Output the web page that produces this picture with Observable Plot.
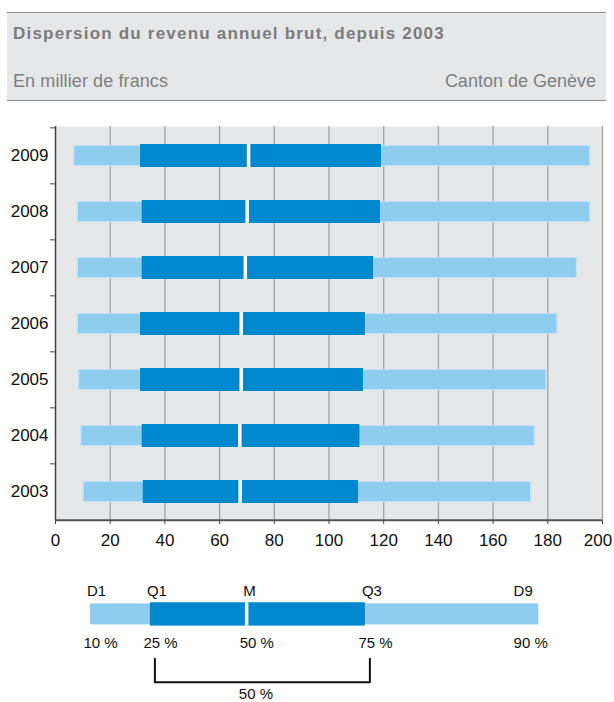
<!DOCTYPE html>
<html>
<head>
<meta charset="utf-8">
<script src="https://cdn.jsdelivr.net/npm/d3@7"></script>
<script src="https://cdn.jsdelivr.net/npm/@observablehq/plot@0.6"></script>
<style>
  html, body { margin: 0; padding: 0; background: #fff; }
  #page { position: relative; width: 614px; height: 702px; overflow: hidden; font-family: "Liberation Sans", Arial, sans-serif; }
  #header { position: absolute; left: 6.5px; top: 11.5px; width: 599px; height: 87px; background: #E6E7E9;
            border-top: 1px solid #8c8c8c; border-bottom: 1px solid #8c8c8c; }
  .htxt { position: absolute; white-space: nowrap; color: #7f7f7f; }
  #title { left: 13px; top: 24.5px; font-size: 17px; line-height: 17px; font-weight: bold; letter-spacing: 1.2px; color: #7c7c7c; }
  #sub { left: 13px; top: 72px; font-size: 18px; line-height: 18px; letter-spacing: 0.1px; }
  #canton { right: 18px; top: 72px; font-size: 18px; line-height: 18px; }
  #main { position: absolute; left: 0; top: 100px; }
  #legend { position: absolute; left: 0; top: 556px; }
</style>
</head>
<body>
<div id="page">
  <div id="header"></div>
  <div class="htxt" id="title">Dispersion du revenu annuel brut, depuis 2003</div>
  <div class="htxt" id="sub">En millier de francs</div>
  <div class="htxt" id="canton">Canton de Genève</div>
  <div id="main"></div>
  <div id="legend"></div>
</div>
<script>
// ---- data (en milliers de francs) ----
const years = [2003, 2004, 2005, 2006, 2007, 2008, 2009];
const d1  = [10.3,  9.5,   8.7,   8.2,   8.2,   8.2,   6.9];
const q1  = [32.1,  31.7,  31.1,  31.1,  31.7,  31.7,  31.1];
const med = [67.5,  67.4,  67.9,  67.9,  69.4,  70.1,  70.6];
const q3  = [110.8, 111.3, 112.6, 113.3, 116.3, 118.8, 119.2];
const d9  = [173.9, 175.2, 179.5, 183.5, 190.6, 195.5, 195.5];
const xTicks = [0, 20, 40, 60, 80, 100, 120, 140, 160, 180, 200];

// legend schematic
const legendKeys   = ["D1", "Q1", "M", "Q3", "D9"];
const legendPct    = ["10 %", "25 %", "50 %", "75 %", "90 %"];
const legendValues = [12.8, 34.7, 69.9, 113.3, 176.7];
const legendSpan   = "50 %";

const rows = years.map((year, i) => ({year, d1: d1[i], q1: q1[i], med: med[i], q3: q3[i], d9: d9[i]}));

const font = "'Liberation Sans', Arial, sans-serif";
const light = "#8ECDEF", dark = "#0088CE", bg = "#E6E7E9";

const W = 614, H = 456, mT = 26, mB = 36, mL = 55, mR = 12;
const step = (H - mT - mB) / years.length;
const fmtYear = d => String(d);

const main = Plot.plot({
  width: W, height: H, marginTop: mT, marginBottom: mB, marginLeft: mL, marginRight: mR,
  style: {fontFamily: font, fontSize: "17px", color: "#111", background: "transparent"},
  x: {domain: [0, 200], label: null},
  y: {type: "band", domain: years.slice().reverse(), paddingInner: 0.59, paddingOuter: 0.295, label: null},
  marks: [
    Plot.frame({fill: bg, stroke: "none"}),
    Plot.ruleX(xTicks.filter(d => d > 0), {stroke: "#a3a3a3", strokeWidth: 1.3}),
    Plot.barX(rows, {y: "year", x1: "d1", x2: "d9", fill: light, stroke: "#bfe2f6", strokeWidth: 1, insetTop: 1.5, insetBottom: 1.5}),
    Plot.barX(rows, {y: "year", x1: "q1", x2: "q3", fill: dark}),
    Plot.tickX(rows, {y: "year", x: "med", stroke: "white", strokeWidth: 3.5}),
    Plot.ruleX([0], {stroke: "#444", strokeWidth: 1.5}),
    Plot.tickY([years[0]], {dy: step / 2, stroke: "#555", strokeWidth: 2}),
    Plot.axisX(xTicks.slice(0, -1), {tickSize: 4, tickPadding: 9, stroke: "#444", fill: "#111", fontSize: 17, label: null}),
    Plot.axisX(xTicks.slice(-1), {tickSize: 4, tickPadding: 9, stroke: "#444", fill: "#111", fontSize: 17, label: null, text: null}),
    Plot.axisX(xTicks.slice(-1), {tickSize: 0, tickPadding: 13, fill: "#111", fontSize: 17, label: null, dx: -4.5}),
    Plot.axisY({tickSize: 5, text: null, dy: -step / 2, stroke: "#444", label: null}),
    Plot.axisY({tickSize: 0, tickPadding: 7, fill: "#111", fontSize: 17, label: null, tickFormat: fmtYear})
  ]
});
document.getElementById("main").appendChild(main);

const [vD1, vQ1, vM, vQ3, vD9] = legendValues;
const bracket = [
  {x: vQ1, y: 1.9}, {x: vQ1, y: 2.9}, {x: vQ3, y: 2.9}, {x: vQ3, y: 1.9}
];
const keyItems = legendKeys.map((k, i) => ({k, v: legendValues[i], p: legendPct[i]}));

const legend = Plot.plot({
  width: W, height: 163, marginTop: 0, marginBottom: 0, marginLeft: mL, marginRight: mR,
  style: {fontFamily: font, fontSize: "15px", color: "#111", background: "transparent"},
  x: {domain: [0, 200], axis: null},
  y: {domain: [-2.48, 4.5], range: [0, 163], axis: null},
  marks: [
    Plot.rect([{a: vD1, b: vD9}], {x1: "a", x2: "b", y1: -0.45, y2: 0.45, fill: light}),
    Plot.rect([{a: vQ1, b: vQ3}], {x1: "a", x2: "b", y1: -0.5, y2: 0.5, fill: dark}),
    Plot.ruleX([vM], {y1: -0.5, y2: 0.5, stroke: "white", strokeWidth: 3.5}),
    Plot.text(keyItems.slice(0, 4), {x: "v", y: -1, text: "k", textAnchor: "start", dx: -3.5, fill: "#111"}),
    Plot.text(keyItems.slice(4), {x: "v", y: -1, text: "k", textAnchor: "end", dx: -6, fill: "#111"}),
    Plot.text(keyItems.slice(0, 4), {x: "v", y: 1.25, text: "p", textAnchor: "start", dx: -7, fill: "#111"}),
    Plot.text(keyItems.slice(4), {x: "v", y: 1.25, text: "p", textAnchor: "end", dx: 9, fill: "#111"}),
    Plot.line(bracket, {x: "x", y: "y", stroke: "#111", strokeWidth: 2, dx: 4.5}),
    Plot.text([legendSpan], {x: (vQ1 + vQ3) / 2, y: 3.42, text: d => d, dx: -2, fill: "#111"})
  ]
});
document.getElementById("legend").appendChild(legend);
</script>
</body>
</html>
